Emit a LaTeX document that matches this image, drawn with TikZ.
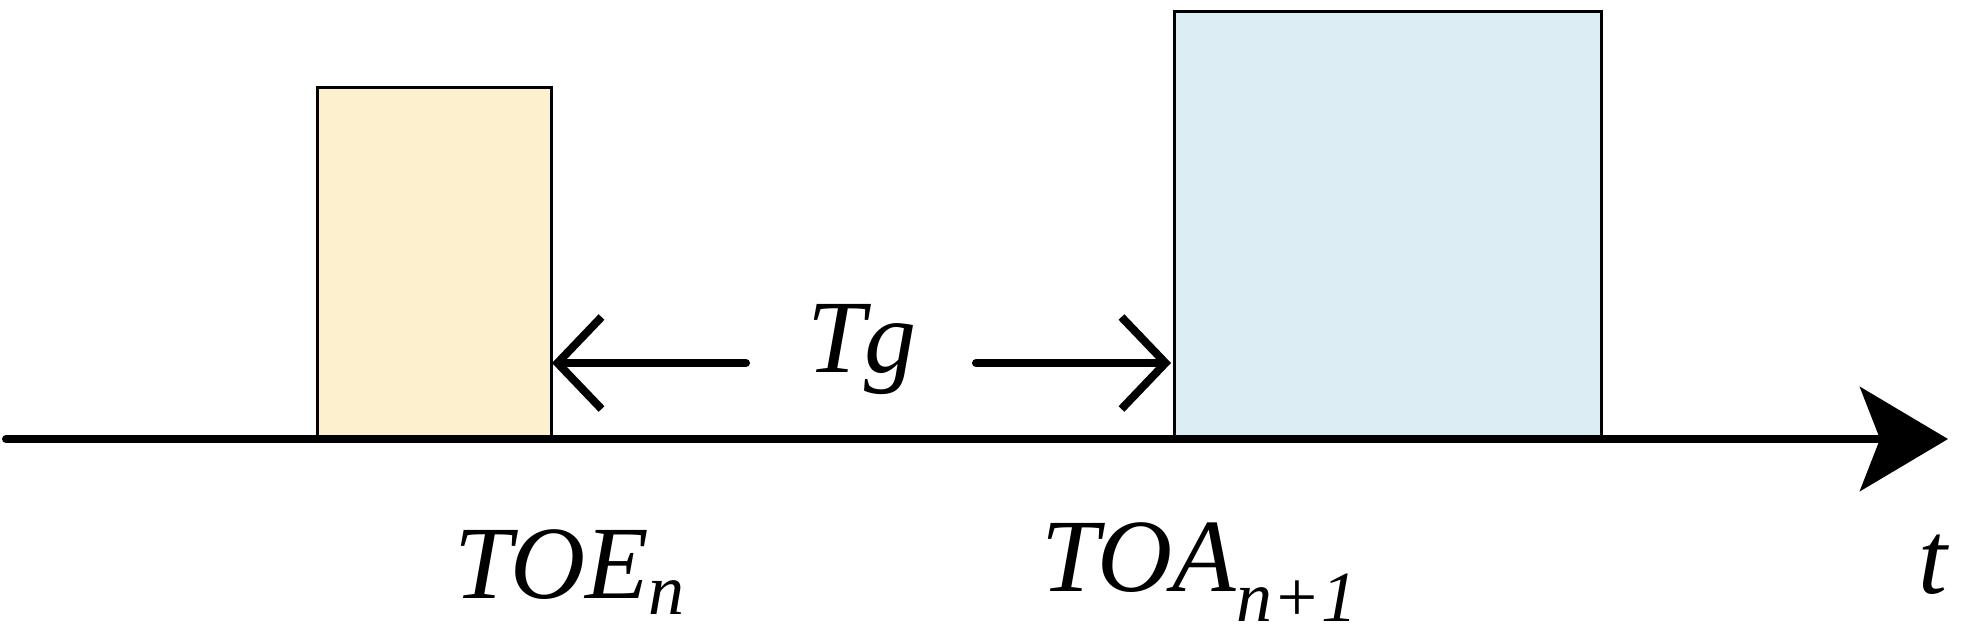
\documentclass[tikz,border=0pt]{standalone}
\usepackage{fontspec}
\setmainfont{Liberation Serif}
\usetikzlibrary{arrows.meta}
\definecolor{boxA}{HTML}{FDF0CF}
\definecolor{boxB}{HTML}{DCEEF3}
\tikzset{
  pulse/.style={draw=black,line width=1.5pt},
  gaparrow/.style={line width=4pt,line cap=round,-{Straight Barb[length=22pt,width=46pt,line width=4pt]}},
  lbl/.style={font=\fontsize{52}{52}\selectfont\itshape,inner sep=0pt}
}
\begin{document}
\begin{tikzpicture}[x=0.5pt,y=-0.5pt]
\useasboundingbox (0,0) rectangle (1961,639);
\node[pulse,fill=boxA,minimum width=117pt,minimum height=175pt,inner sep=0pt,anchor=south west] (p1) at (316,439) {};
\node[pulse,fill=boxB,minimum width=213.5pt,minimum height=213pt,inner sep=0pt,anchor=south west] (p2) at (1173,439) {};
\coordinate (a0) at (6,439);
\coordinate (a1) at (1948,439);
\draw[line width=4pt,line cap=round,-{Stealth[length=44pt,width=52pt,inset=10pt]}] (a0) -- (a1);
\node[lbl] (tg) at (862,350) {Tg};
\coordinate (l0) at (746,363);
\coordinate (l1) at (552,363);
\coordinate (r0) at (976,363);
\coordinate (r1) at (1171,363);
\draw[gaparrow] (l0) -- (l1);
\draw[gaparrow] (r0) -- (r1);
\node[lbl] (toe) at (570,572) {TOE\textsubscript{\fontsize{36}{36}\selectfont n}};
\node[lbl] (toa) at (1200,572) {TOA\textsubscript{\fontsize{36}{36}\selectfont n+1}};
\node[lbl] (t) at (1933,565) {t};
\end{tikzpicture}
\end{document}
